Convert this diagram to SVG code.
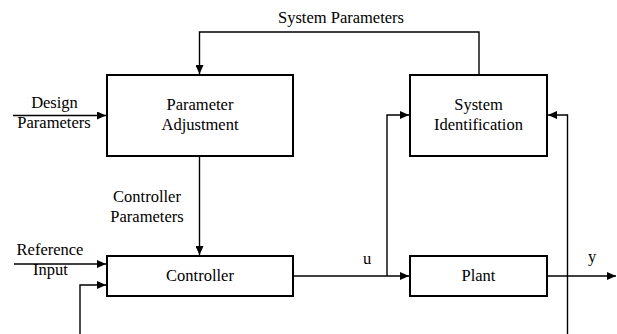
<svg xmlns="http://www.w3.org/2000/svg" width="617" height="334" viewBox="0 0 617 334">
<style>
.box{fill:#fff;stroke:#000;stroke-width:2}
.ln{fill:none;stroke:#000;stroke-width:1.4}
.t{font-family:'Liberation Serif','Times New Roman','DejaVu Serif',serif;font-size:16.5px;fill:#000;text-anchor:middle}
</style>
<defs>
<marker id="ah" markerWidth="9" markerHeight="8" refX="9" refY="4" orient="auto" markerUnits="userSpaceOnUse">
<path d="M0,0 L9,4 L0,8 Z" fill="#000"/>
</marker>
</defs>
<g id="connectors">
<path class="ln" d="M479,75 V32 H199.5 V74" marker-end="url(#ah)"/>
<path class="ln" d="M13,115.5 H106" marker-end="url(#ah)"/>
<path class="ln" d="M199.5,156 V255" marker-end="url(#ah)"/>
<path class="ln" d="M14,264 H106" marker-end="url(#ah)"/>
<path class="ln" d="M80,334 V285 H106" marker-end="url(#ah)"/>
<path class="ln" d="M293,276 H409" marker-end="url(#ah)"/>
<path class="ln" d="M387,276 V115 H409" marker-end="url(#ah)"/>
<path class="ln" d="M547,276 H616" marker-end="url(#ah)"/>
<path class="ln" d="M567.5,334 V115 H548" marker-end="url(#ah)"/>
<text class="t" x="341" y="23">System Parameters</text>
<text class="t" x="54.5" y="108">Design</text>
<text class="t" x="54" y="127.5">Parameters</text>
<text class="t" x="147" y="201.5">Controller</text>
<text class="t" x="147" y="221.5">Parameters</text>
<text class="t" x="50" y="254.5">Reference</text>
<text class="t" x="50.5" y="275">Input</text>
<text class="t" x="367" y="264">u</text>
<text class="t" x="592" y="262">y</text>
</g>
<g id="param-adjust">
<rect class="box" x="107" y="75" width="186" height="81"/>
<text class="t" x="200" y="110">Parameter</text>
<text class="t" x="200" y="130">Adjustment</text>
</g>
<g id="sys-id">
<rect class="box" x="410" y="75" width="137" height="81"/>
<text class="t" x="478.5" y="110">System</text>
<text class="t" x="478.5" y="130">Identification</text>
</g>
<g id="controller">
<rect class="box" x="107" y="256" width="186" height="40"/>
<text class="t" x="200" y="281">Controller</text>
</g>
<g id="plant">
<rect class="box" x="410" y="256" width="137" height="40"/>
<text class="t" x="478.5" y="281">Plant</text>
</g>
</svg>
